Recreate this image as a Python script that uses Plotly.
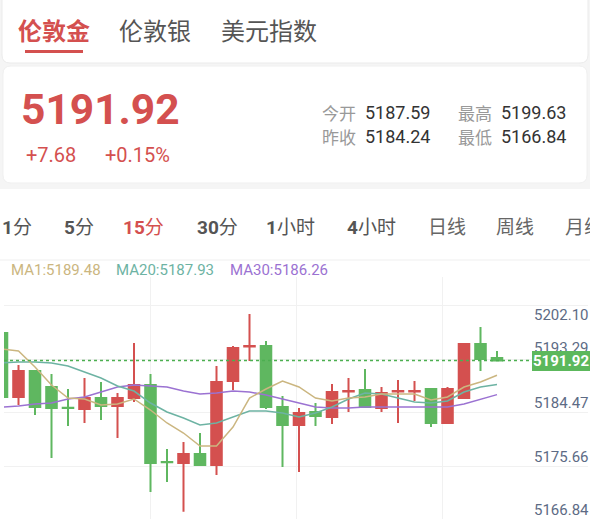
import re
import plotly.graph_objects as go

W, H = 590, 519

# ---------------- data ----------------
opens = [5196.48, 5185.87, 5190.18, 5187.53, 5184.10, 5183.88, 5185.70, 5184.38, 5185.70, 5187.86,
         5175.10, 5174.93, 5176.42, 5174.59, 5188.52, 5194.25, 5194.32, 5184.21, 5181.23, 5183.38,
         5182.55, 5186.80, 5187.03, 5184.05, 5186.80, 5186.80, 5187.19, 5181.56, 5185.70, 5194.66,
         5192.33]
highs = [5196.81, 5191.17, 5190.35, 5189.68, 5187.19, 5189.02, 5188.36, 5186.53, 5194.82, 5189.68,
         5177.25, 5178.41, 5179.90, 5191.01, 5194.32, 5199.63, 5195.15, 5186.03, 5184.05, 5184.87,
         5188.02, 5189.02, 5190.51, 5187.53, 5188.69, 5188.52, 5187.36, 5187.53, 5194.82, 5197.47,
         5193.50]
lows = [5185.54, 5184.54, 5182.88, 5175.75, 5181.06, 5181.56, 5182.06, 5179.07, 5185.04, 5170.12,
        5171.78, 5166.84, 5174.55, 5172.94, 5187.03, 5191.84, 5183.88, 5174.26, 5173.43, 5181.06,
        5181.39, 5183.38, 5184.15, 5183.38, 5181.56, 5185.21, 5180.89, 5181.39, 5185.54, 5190.18,
        5191.90]
closes = [5185.87, 5190.18, 5184.21, 5184.05, 5184.05, 5185.70, 5184.38, 5185.70, 5187.86, 5174.93,
          5175.05, 5176.42, 5174.59, 5188.36, 5193.99, 5194.32, 5184.21, 5181.23, 5183.22, 5182.72,
          5186.70, 5186.87, 5184.21, 5186.53, 5186.87, 5186.87, 5181.56, 5187.19, 5194.66, 5192.17,
          5191.92]
ma1 = [5193.83, 5193.50, 5190.84, 5187.86, 5185.70, 5185.54, 5184.54, 5184.71, 5185.54, 5183.71,
       5181.56, 5179.90, 5177.74, 5177.74, 5180.89, 5185.70, 5187.19, 5188.52, 5187.53, 5185.70,
       5185.21, 5185.70, 5185.87, 5186.37, 5186.37, 5186.37, 5185.37, 5185.87, 5187.53, 5188.36,
       5189.48]
ma20 = [5191.51, 5191.67, 5191.67, 5191.51, 5191.01, 5190.01, 5189.02, 5187.69, 5186.86, 5184.87,
        5183.38, 5182.39, 5181.23, 5181.56, 5182.55, 5183.55, 5183.55, 5183.22, 5182.55, 5183.22,
        5184.21, 5185.54, 5186.53, 5186.37, 5185.70, 5185.04, 5184.87, 5185.21, 5186.70, 5187.53,
        5187.93]
ma30 = [5184.21, 5184.38, 5184.71, 5184.87, 5185.54, 5185.87, 5186.70, 5187.53, 5187.86, 5187.69,
        5187.53, 5186.86, 5186.37, 5186.53, 5186.86, 5186.70, 5186.20, 5185.54, 5184.87, 5184.21,
        5184.05, 5184.05, 5184.21, 5184.21, 5184.21, 5184.21, 5184.21, 5184.21, 5184.71, 5185.54,
        5186.26]
price_ticks = [5202.10, 5193.29, 5184.47, 5175.66, 5166.84]

symbol_tabs = ["伦敦金", "伦敦银", "美元指数"]
period_tabs = ["1分", "5分", "15分", "30分", "1小时", "4小时", "日线", "周线", "月线"]
last_price = 5191.92
change = 7.68
change_pct = 0.15
today_open = 5187.59
prev_close = 5184.24

# ---------------- style ----------------
RED = "#d4504f"
GREEN = "#5fb760"
C_MA1 = "#cbb680"
C_MA20 = "#6db3a3"
C_MA30 = "#9b72d2"
FONT = "Roboto, 'Noto Sans CJK SC', sans-serif"
CJK = "'Noto Sans CJK SC', Roboto, sans-serif"


def px(x):
    return x / W


def py(y):
    return 1 - y / H


def rrect(x0, y0, x1, y1, r):
    pts = lambda a, b: f"{px(a):.5f},{py(b):.5f}"
    return ("M " + pts(x0 + r, y0) + " L " + pts(x1 - r, y0) + " Q " + pts(x1, y0) + " " + pts(x1, y0 + r)
            + " L " + pts(x1, y1 - r) + " Q " + pts(x1, y1) + " " + pts(x1 - r, y1)
            + " L " + pts(x0 + r, y1) + " Q " + pts(x0, y1) + " " + pts(x0, y1 - r)
            + " L " + pts(x0, y0 + r) + " Q " + pts(x0, y0) + " " + pts(x0 + r, y0) + " Z")


n = len(closes)
xs = list(range(n))

fig = go.Figure()
fig.add_trace(go.Candlestick(
    x=xs, open=opens, high=highs, low=lows, close=closes,
    increasing=dict(line=dict(color=RED, width=2), fillcolor=RED),
    decreasing=dict(line=dict(color=GREEN, width=2), fillcolor=GREEN),
    whiskerwidth=0, showlegend=False, hoverinfo="skip"))
for vals, col in [(ma30, C_MA30), (ma20, C_MA20), (ma1, C_MA1)]:
    fig.add_trace(go.Scatter(x=xs, y=vals, mode="lines", line=dict(color=col, width=1.5),
                             showlegend=False, hoverinfo="skip"))
# grid carrier
fig.add_trace(go.Scatter(x=[None], y=[None], xaxis="x2", yaxis="y2", showlegend=False, hoverinfo="skip"))

x_dom = [px(4), px(588)]
y_dom = [0, py(277)]
spacing = 16.5
x_rng = [(4 - 2) / spacing, (588 - 2) / spacing]
ppu = 6.032
y_top = max(highs) + (314 - 277) / ppu
y_bot = max(highs) - (519 - 314) / ppu

fig.update_layout(
    width=W, height=H, margin=dict(l=0, r=0, t=0, b=0),
    paper_bgcolor="#f5f5f5", plot_bgcolor="rgba(0,0,0,0)",
    boxgap=0.36, boxgroupgap=0,
    xaxis=dict(domain=x_dom, range=x_rng, showgrid=False, zeroline=False, showticklabels=False,
               rangeslider=dict(visible=False), fixedrange=True),
    yaxis=dict(domain=y_dom, range=[y_bot, y_top], showgrid=False, zeroline=False, showticklabels=False),
    xaxis2=dict(overlaying="x", range=[0, 4], tickvals=[0, 1, 2, 3, 4], showgrid=True,
                gridcolor="#f1f1f1", gridwidth=1, showticklabels=False, zeroline=False, ticks=""),
    yaxis2=dict(overlaying="y", range=[0.0094, 4.543], tickvals=[0, 1, 2, 3, 4], showgrid=True,
                gridcolor="#f1f1f1", gridwidth=1, showticklabels=False, zeroline=False, ticks=""),
)

shapes = []
# cards / backgrounds
shapes.append(dict(type="rect", xref="paper", yref="paper", x0=0, x1=1, y0=0, y1=py(189),
                   fillcolor="white", line=dict(width=0), layer="below"))
shapes.append(dict(type="path", xref="paper", yref="paper", path=rrect(2, -12, 588, 63, 8),
                   fillcolor="white", line=dict(color="#ebebeb", width=1), layer="below"))
shapes.append(dict(type="path", xref="paper", yref="paper", path=rrect(3, 66, 587, 183, 8),
                   fillcolor="white", line=dict(color="#f0f0f0", width=1), layer="below"))
# tab underline
shapes.append(dict(type="rect", xref="paper", yref="paper", x0=px(25), x1=px(83), y0=py(53), y1=py(50),
                   fillcolor=RED, line=dict(width=0)))
# separator
shapes.append(dict(type="line", xref="paper", yref="paper", x0=0, x1=1, y0=py(260), y1=py(260),
                   line=dict(color="#efefef", width=1)))
# last price dotted line
shapes.append(dict(type="line", xref="paper", yref="y", x0=px(4), x1=px(531),
                   y0=closes[-1], y1=closes[-1], line=dict(color="#4caf50", width=1.5, dash="dot")))
fig.update_layout(shapes=shapes)

ann = []


def text(x, y, s, size, color, family=FONT, bold=False, anchor="left"):
    ann.append(dict(xref="paper", yref="paper", x=px(x), y=py(y), xanchor=anchor, yanchor="middle",
                    text=(f"<b>{s}</b>" if bold else s), showarrow=False, borderpad=0, borderwidth=0,
                    font=dict(size=size, color=color, family=family)))


# symbol tabs
for s, x, active in zip(symbol_tabs, [18, 119, 221], [True, False, False]):
    text(x, 30, s, 24, RED if active else "#555555", CJK, bold=active)

# header
text(21, 110, f"{last_price:.2f}", 42.5, RED, bold=True)
text(25.5, 155, f"+{change:.2f}", 20, RED)
text(104.5, 155, f"+{change_pct:.2f}%", 20, RED)
text(322, 113, "今开", 17, "#999999", CJK)
text(365, 113, f"{today_open:.2f}", 18, "#333333")
text(458, 113, "最高", 17, "#999999", CJK)
text(501, 113, f"{max(highs):.2f}", 18, "#333333")
text(322, 137, "昨收", 17, "#999999", CJK)
text(365, 137, f"{prev_close:.2f}", 18, "#333333")
text(458, 137, "最低", 17, "#999999", CJK)
text(501, 137, f"{min(lows):.2f}", 18, "#333333")

# period tabs (digits drawn heavier, as in the app)
for s, x in zip(period_tabs, [2, 64, 123, 197, 266, 347, 428, 496, 565]):
    col = RED if s == "15分" else ("#666666" if s in ("日线", "周线", "月线") else "#555555")
    label = re.sub(r"(\d+)", r"<b>\1</b>", s)
    text(x, 227, label, 19, col)

# MA legend
text(11, 270, f"MA1:{ma1[-1]:.2f}", 15, C_MA1)
text(116, 270, f"MA20:{ma20[-1]:.2f}", 15, C_MA20)
text(230, 270, f"MA30:{ma30[-1]:.2f}", 15, C_MA30)

# price axis labels
for v, ys in zip(price_ticks, [-16, 4, 2, 2, 2]):
    ann.append(dict(xref="paper", yref="y", x=px(589), y=v, yshift=ys, xanchor="right", yanchor="middle",
                    text=f"{v:.2f}", showarrow=False, borderpad=0, borderwidth=0,
                    font=dict(size=15, color="#5d6b85", family=FONT)))
# last price tag
ann.append(dict(xref="paper", yref="y", x=1, y=closes[-1], xanchor="right", yanchor="middle",
                text=f"<b>{closes[-1]:.2f}</b>", showarrow=False, bgcolor="#5cb85c", borderpad=1,
                borderwidth=0, font=dict(size=15, color="white", family=FONT)))

fig.update_layout(annotations=ann)
fig.write_html("out.html")
